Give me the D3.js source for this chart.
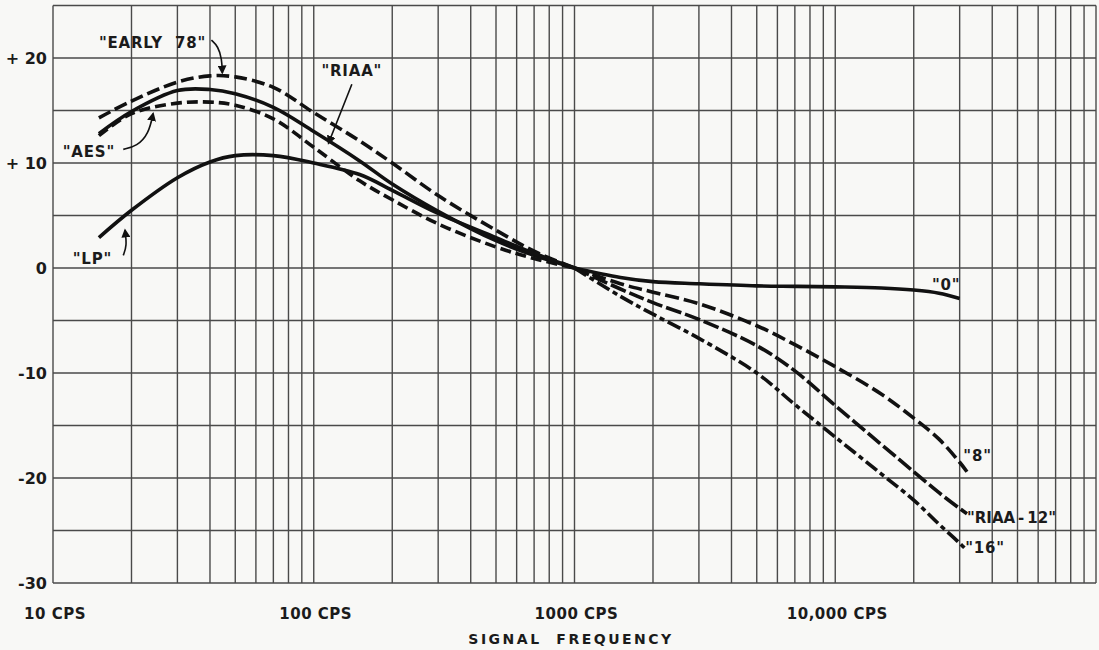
<!DOCTYPE html>
<html>
<head>
<meta charset="utf-8">
<script src="https://cdn.jsdelivr.net/npm/d3@7/dist/d3.min.js"></script>
<style>
  body { margin: 0; background: #f8f8f6; }
  svg text { font-family: "DejaVu Sans", sans-serif; font-weight: bold; fill: #1b1b1b; white-space: pre; }
</style>
</head>
<body>
<div id="chart"></div>
<script>
// bass turnover curves (dB vs cps)
var bassFreq = [15, 20, 30, 40, 50, 70, 100, 150, 200, 300, 500, 700, 1000];
var early78  = [14.3, 15.9, 17.7, 18.3, 18.2, 17.2, 14.8, 12.1, 10.0, 6.9, 3.6, 1.6, 0];
var riaaBass = [12.8, 14.9, 16.9, 17.0, 16.6, 15.3, 13.0, 10.2, 8.0, 5.4, 2.6, 1.2, 0];
var aesBass  = [12.6, 14.7, 15.7, 15.8, 15.5, 14.2, 11.5, 8.3, 6.5, 4.2, 2.0, 0.9, 0];
var lpBass   = [2.9, 5.5, 8.6, 10.1, 10.7, 10.7, 10.0, 8.9, 7.4, 5.2, 2.9, 1.4, 0];

// treble rolloff curves
var trebleFreq = [1000, 1500, 2000, 3000, 5000, 7000, 10000, 15000, 20000, 25000, 30000, 32000];
var roll0    = [0, -0.9, -1.3, -1.5, -1.7, -1.75, -1.8, -1.9, -2.1, -2.4, -2.9, null];
var roll8    = [0, -1.5, -2.3, -3.4, -5.5, -7.3, -9.4, -12.0, -14.3, -16.3, -18.5, -19.4];
var rollRiaa = [0, -2.0, -3.3, -4.9, -7.4, -9.8, -13.1, -16.8, -19.4, -21.4, -22.9, -23.4];
var roll16   = [0, -2.7, -4.4, -6.7, -10.0, -13.0, -16.1, -19.6, -22.1, -24.4, -26.2, -26.9];

var yTicks = [20, 10, 0, -10, -20, -30];
var yTickLabels = ["+ 20", "+ 10", "0", "-10", "-20", "-30"];
var xTicks = [10, 100, 1000, 10000];
var xTickLabels = ["10 CPS", "100 CPS", "1000 CPS", "10,000 CPS"];

var width = 1099, height = 650;

var x = d3.scaleLog().domain([10, 100000]).range([53, 1096]);
var y = d3.scaleLinear().domain([-30, 25]).range([583, 5.5]);

var svg = d3.select("#chart").append("svg")
    .attr("width", width)
    .attr("height", height);

svg.append("rect").attr("width", width).attr("height", height).attr("fill", "#f8f8f6");

// log grid: 1..9 in every decade
var vLines = [];
[10, 100, 1000, 10000].forEach(function(d) {
  for (var m = 1; m < 10; m++) vLines.push(d * m);
});
vLines.push(100000);

var grid = svg.append("g").attr("stroke", "#4a4a4a").attr("stroke-width", 1.4);
grid.selectAll("line.v").data(vLines).enter().append("line")
    .attr("class", "v")
    .attr("x1", function(d) { return x(d); })
    .attr("x2", function(d) { return x(d); })
    .attr("y1", y(25)).attr("y2", y(-30));
grid.selectAll("line.h").data(d3.range(-30, 26, 5)).enter().append("line")
    .attr("class", "h")
    .attr("x1", x(10)).attr("x2", x(100000))
    .attr("y1", function(d) { return y(d); })
    .attr("y2", function(d) { return y(d); });

// axis labels
svg.selectAll("text.ytick").data(yTicks).enter().append("text")
    .attr("class", "ytick")
    .attr("x", 47)
    .attr("y", function(d) { return y(d) + 6; })
    .attr("text-anchor", "end")
    .style("font-size", "16px")
    .text(function(d, i) { return yTickLabels[i]; });

svg.selectAll("text.xtick").data(xTicks).enter().append("text")
    .attr("class", "xtick")
    .attr("x", function(d) { return x(d) + 2; })
    .attr("y", 619)
    .attr("text-anchor", "middle")
    .style("font-size", "15px")
    .style("letter-spacing", "0.5px")
    .text(function(d, i) { return xTickLabels[i]; });

svg.append("text")
    .attr("x", 571).attr("y", 644)
    .attr("text-anchor", "middle")
    .style("font-size", "14px")
    .style("letter-spacing", "2.5px")
    .text("SIGNAL  FREQUENCY");

// curves
var series = [
  { freq: bassFreq, vals: early78, dash: "13,5" },
  { freq: bassFreq, vals: riaaBass, dash: null },
  { freq: bassFreq, vals: aesBass, dash: "11,5" },
  { freq: bassFreq, vals: lpBass, dash: null },
  { freq: trebleFreq, vals: roll0, dash: null },
  { freq: trebleFreq, vals: roll8, dash: "14,5" },
  { freq: trebleFreq, vals: rollRiaa, dash: "16,4" },
  { freq: trebleFreq, vals: roll16, dash: "14,4,5,4" }
];

var line = d3.line()
    .defined(function(d) { return d[1] != null; })
    .x(function(d) { return x(d[0]); })
    .y(function(d) { return y(d[1]); })
    .curve(d3.curveCatmullRom.alpha(0.5));

svg.selectAll("path.curve").data(series).enter().append("path")
    .attr("class", "curve")
    .attr("d", function(s) { return line(s.freq.map(function(f, i) { return [f, s.vals[i]]; })); })
    .attr("fill", "none")
    .attr("stroke", "#111")
    .attr("stroke-width", 3.6)
    .attr("stroke-dasharray", function(s) { return s.dash; });

// curve labels (positions in cps / dB)
var labels = [
  { text: "\"EARLY  78\"", f: 15, db: 21.5, ls: 0.8 },
  { text: "\"RIAA\"", f: 107, db: 18.9, ls: 0.8 },
  { text: "\"AES\"", f: 10.9, db: 11.1, ls: 0.8 },
  { text: "\"LP\"", f: 11.9, db: 0.95, ls: 0.8 },
  { text: "\"0\"", f: 23500, db: -1.5, ls: 0.8 },
  { text: "\"8\"", f: 31000, db: -17.8, ls: 0.8 },
  { text: "\"RIAA\u2009-\u200912\"", f: 32000, db: -23.7, ls: 0 },
  { text: "\"16\"", f: 31500, db: -26.6, ls: 0.8 }
];
svg.selectAll("text.lab").data(labels).enter().append("text")
    .attr("class", "lab")
    .attr("x", function(d) { return x(d.f); })
    .attr("y", function(d) { return y(d.db) + 6; })
    .style("font-size", "15px")
    .style("letter-spacing", function(d) { return d.ls + "px"; })
    .text(function(d) { return d.text; });

// pointer arrows
svg.append("defs").append("marker")
    .attr("id", "head")
    .attr("viewBox", "0 0 10 10")
    .attr("refX", 8).attr("refY", 5)
    .attr("markerWidth", 9).attr("markerHeight", 9)
    .attr("markerUnits", "userSpaceOnUse")
    .attr("orient", "auto")
  .append("path")
    .attr("d", "M0,0 L10,5 L0,10 Z")
    .attr("fill", "#111");

var arrows = [
  [[40.5, 21.7], [43.0, 21.1], [44.4, 19.9], [44.6, 18.6]],
  [[140, 17.5], [114, 11.9]],
  [[18.6, 11.3], [21.0, 11.6], [23.3, 12.8], [24.2, 14.7]],
  [[18.6, 1.2], [19.2, 2.1], [18.9, 3.6]]
];
var arrowLine = d3.line()
    .x(function(d) { return x(d[0]); })
    .y(function(d) { return y(d[1]); })
    .curve(d3.curveBasis);

svg.selectAll("path.arrow").data(arrows).enter().append("path")
    .attr("class", "arrow")
    .attr("d", arrowLine)
    .attr("fill", "none")
    .attr("stroke", "#111")
    .attr("stroke-width", 1.6)
    .attr("marker-end", "url(#head)");
</script>
</body>
</html>
